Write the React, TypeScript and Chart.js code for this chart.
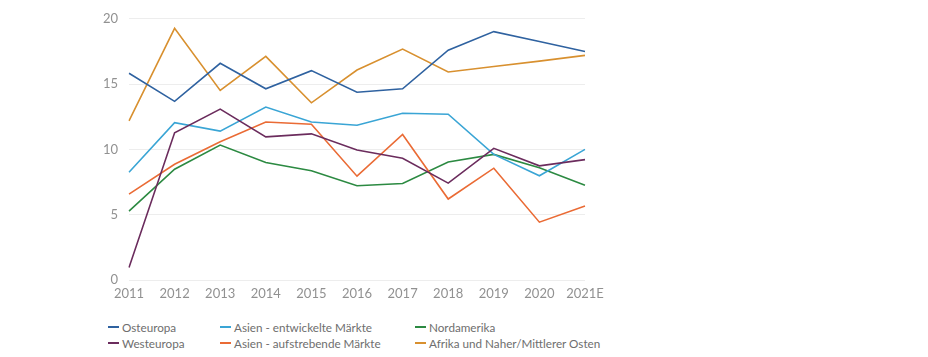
import React, { useEffect, useRef } from "react";
import { Chart, registerables } from "chart.js";

Chart.register(...registerables);

const years = ["2011", "2012", "2013", "2014", "2015", "2016", "2017", "2018", "2019", "2020", "2021E"];

const osteuropa = [15.83, 13.68, 16.59, 14.64, 16.03, 14.38, 14.64, 17.6, 19.02, 18.26, 17.5];
const westeuropa = [0.96, 11.27, 13.09, 10.96, 11.19, 9.95, 9.32, 7.42, 10.08, 8.74, 9.22];
const asienEntwickelt = [8.25, 12.05, 11.4, 13.24, 12.1, 11.85, 12.77, 12.69, 9.62, 7.98, 10.0];
const asienAufstrebend = [6.58, 8.86, 10.59, 12.1, 11.93, 7.95, 11.14, 6.2, 8.56, 4.43, 5.67];
const nordamerika = [5.27, 8.48, 10.33, 8.99, 8.36, 7.22, 7.39, 9.04, 9.62, 8.6, 7.26];
const afrikaNahost = [12.18, 19.27, 14.51, 17.12, 13.57, 16.08, 17.68, 15.93, 16.35, 16.76, 17.2];

const yTicks = [0, 5, 10, 15, 20];

const series = [
  { label: "Osteuropa", data: osteuropa, color: "#2f62a0" },
  { label: "Westeuropa", data: westeuropa, color: "#6b2c5d" },
  { label: "Asien - entwickelte Märkte", data: asienEntwickelt, color: "#3aa5d5" },
  { label: "Asien - aufstrebende Märkte", data: asienAufstrebend, color: "#ea6b35" },
  { label: "Nordamerika", data: nordamerika, color: "#2c8a42" },
  { label: "Afrika und Naher/Mittlerer Osten", data: afrikaNahost, color: "#d8902f" },
];

const FONT = "Lato, 'Open Sans', sans-serif";

export default function App() {
  const ref = useRef<HTMLCanvasElement | null>(null);

  useEffect(() => {
    if (!ref.current) return;
    const chart = new Chart(ref.current, {
      type: "line",
      data: {
        labels: years,
        datasets: series.map((s) => ({
          label: s.label,
          data: s.data,
          borderColor: s.color,
          backgroundColor: s.color,
          borderWidth: 1.6,
          pointRadius: 0,
          tension: 0,
          fill: false,
        })),
      },
      options: {
        animation: false,
        responsive: false,
        maintainAspectRatio: false,
        layout: { padding: { left: 0, right: 343, top: 16, bottom: 0 } },
        plugins: { legend: { display: false }, tooltip: { enabled: false } },
        scales: {
          x: {
            offset: false,
            grid: { display: false, drawTicks: false },
            border: { display: false },
            ticks: {
              color: "#919191",
              font: { family: FONT, size: 13 },
              padding: 6,
              maxRotation: 0,
              autoSkip: false,
            },
            afterFit: (s: any) => {
              s.height = 30;
            },
          },
          y: {
            min: 0,
            max: 20,
            afterBuildTicks: (s: any) => {
              s.ticks = yTicks.map((v) => ({ value: v }));
            },
            grid: { color: "#ededed", lineWidth: 1, drawTicks: false },
            border: { display: false },
            ticks: {
              color: "#919191",
              font: { family: FONT, size: 13 },
              padding: 11,
            },
            afterFit: (s: any) => {
              s.width = 129;
            },
          },
        },
      },
    });
    return () => chart.destroy();
  }, []);

  const cols = [
    { left: 108, items: [series[0], series[1]] },
    { left: 220, items: [series[2], series[3]] },
    { left: 415, items: [series[4], series[5]] },
  ];

  return (
    <div style={{ position: "absolute", left: 0, top: 0, width: 928, height: 357, background: "#fff" }}>
      <canvas ref={ref} width={928} height={310} style={{ position: "absolute", left: 0, top: 0, width: 928, height: 310 }} />
      {cols.map((c, ci) => (
        <div key={ci} style={{ position: "absolute", left: c.left, top: 319 }}>
          {c.items.map((it) => (
            <div
              key={it.label}
              style={{
                display: "flex",
                alignItems: "center",
                height: 16,
                fontFamily: FONT,
                fontSize: 11.7,
                color: "#6e6e6e",
                whiteSpace: "nowrap",
              }}
            >
              <span style={{ display: "inline-block", width: 11, height: 1.6, background: it.color, marginRight: 3 }} />
              <span>{it.label}</span>
            </div>
          ))}
        </div>
      ))}
    </div>
  );
}
